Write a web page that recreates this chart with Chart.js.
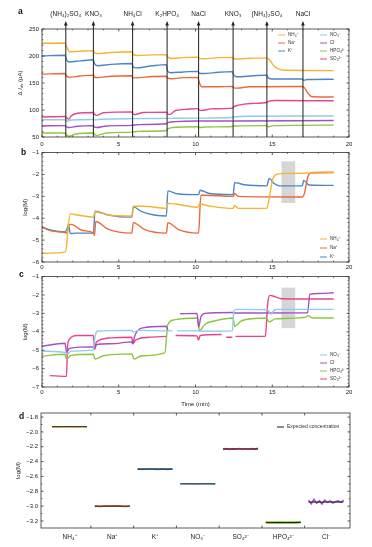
<!DOCTYPE html>
<html>
<head>
<meta charset="utf-8">
<script src="https://cdn.jsdelivr.net/npm/chart.js@4.4.1/dist/chart.umd.min.js"></script>
<style>
  html, body { margin: 0; padding: 0; background: #fff; }
  #wrap { position: relative; width: 372px; height: 547px; overflow: hidden; }
  canvas { position: absolute; left: 0; }
</style>
</head>
<body>
<div id="wrap">
  <canvas id="chartA" width="372" height="150" style="top:0px"></canvas>
  <canvas id="chartB" width="372" height="127" style="top:146px"></canvas>
  <canvas id="chartC" width="372" height="139" style="top:270px"></canvas>
  <canvas id="chartD" width="372" height="141" style="top:406px"></canvas>
</div>
<script>
// ---- colours per ion
const COL = {
  NH4: '#f3b531', Na: '#ea6a3a', K: '#4a87c9',
  NO3: '#8ecde9', Cl: '#a44fc8', HPO4: '#8dc63f', SO4: '#e9438d'
};

// ---- panel a: injections and current traces (time in min, delta I in uA)
const injectTimes = [1.55, 3.35, 5.9, 8.15, 10.2, 12.45, 14.65, 17.0];
const injectLabels = ['(NH\u2084)\u2082SO\u2084', 'KNO\u2083', 'NH\u2084Cl', 'K\u2082HPO\u2084',
                      'NaCl', 'KNO\u2083', '(NH\u2084)\u2082SO\u2084', 'NaCl'];

const aNH4 = [[0,223.5],[1.5,224],[1.62,216],[1.8,208],[2.3,208.5],[3.35,210],[3.42,206],[3.6,204.5],[4.5,206.5],[5.85,208],[5.95,203],[6.2,201],[7.2,202],[8.1,202.5],[8.2,198],[8.45,195.5],[9.2,197],[10.15,198],[10.25,195.5],[10.6,195],[11.5,197],[12.4,197.5],[12.5,195],[12.8,194.5],[13.8,196],[14.65,196],[14.85,192],[15.1,182],[15.4,176],[15.8,173.5],[19,173]];
const aNa = [[0,166.5],[1.5,167.5],[1.6,163],[1.75,160.5],[2.5,163],[3.35,164.5],[3.42,161],[3.6,160],[4.5,162.5],[5.85,163.5],[5.92,160],[6.1,159.5],[7.2,162],[8.1,162.5],[8.18,159],[8.4,158],[9.2,160],[10.15,160.5],[10.25,151],[10.4,143],[11.5,143],[12.4,143.5],[12.5,141],[12.7,140.5],[13.5,143],[16.95,143.5],[17.1,141],[17.35,130],[17.6,124.5],[19,124]];
const aK = [[0,200],[1.5,201.5],[1.6,193],[1.75,189],[2.5,191],[3.35,193],[3.42,186],[3.6,182],[4.5,184.5],[5.85,186],[5.92,181],[6.1,178],[7.2,182],[8.1,184],[8.18,172],[8.4,169],[9.2,170.5],[10.15,171.5],[10.25,168],[10.5,167.5],[11.5,170],[12.4,171],[12.5,164],[12.7,161.5],[13.8,163.5],[14.65,164.5],[14.75,159],[15.0,157.5],[16.95,157.5],[17.05,155],[17.3,156.5],[19,157]];
const aNO3 = [[0,82],[1.5,82],[1.65,79.5],[1.9,81.5],[3.35,82.5],[3.45,81.5],[3.8,83],[5.9,84],[8.1,84.5],[10.2,85],[12.4,86],[12.6,87.5],[13.5,88.5],[19,89]];
const aCl = [[0,70.5],[1.5,71],[1.62,68.5],[1.75,67.5],[2.3,70],[3.35,71],[3.42,68.5],[3.55,67.5],[4.2,70.5],[5.85,71.5],[6.3,73],[8.1,74.5],[8.25,77],[8.7,78.5],[10.15,79.5],[10.4,79.5],[12.5,79.5],[19,80.5]];
const aHPO4 = [[0,57.5],[1.5,57.5],[1.62,53.5],[1.75,51.5],[2.2,55.5],[3.35,57.5],[3.42,54.5],[3.55,53],[4.2,57.5],[5.85,59],[6.3,60.5],[8.1,61.5],[8.2,65],[8.5,67.5],[10.15,69],[10.25,67.5],[10.6,68.5],[12.4,69.5],[12.5,70.5],[14.65,71],[14.75,69],[15.1,71],[19,72]];
const aSO4 = [[0,87],[1.5,88],[1.6,85.5],[1.75,83],[1.9,89],[2.3,94],[3.35,95.5],[3.42,92],[3.55,90],[4,95],[5.85,96.5],[5.92,93],[6.05,91.5],[6.6,95.5],[8.1,96],[8.18,93],[8.3,91.5],[8.7,99],[9.5,101.5],[10.15,102.5],[10.25,100],[10.4,99],[11,102],[12.4,103.5],[12.5,106],[12.8,109],[13.6,112],[14.65,114],[14.8,116.5],[15.2,117.5],[19,117]];

// ---- panel b: cations, log(M)
const bNH4 = [[0,-5.6],[1.5,-5.55],[1.6,-5.3],[1.7,-4.4],[1.85,-3.8],[2.3,-3.85],[3.35,-3.95],[3.45,-3.7],[4.3,-3.85],[5.85,-3.9],[5.95,-3.45],[6.6,-3.45],[8.1,-3.55],[8.2,-3.32],[8.7,-3.35],[10.15,-3.5],[10.25,-3.35],[11,-3.45],[12.45,-3.55],[12.55,-3.42],[12.8,-3.55],[14.65,-3.55],[14.8,-3.1],[15.0,-2.3],[15.25,-2.0],[16,-1.95],[19,-1.92]];
const bNa = [[0,-4.42],[0.6,-4.58],[1.5,-4.65],[1.65,-4.68],[1.75,-4.3],[1.9,-4.28],[2.6,-4.55],[3.35,-4.68],[3.42,-4.78],[3.5,-4.15],[4.3,-4.5],[5.85,-4.68],[5.95,-4.2],[6.7,-4.52],[8.1,-4.68],[8.2,-4.2],[8.9,-4.52],[10.2,-4.68],[10.35,-2.95],[10.6,-2.95],[12.45,-3.0],[12.55,-2.87],[12.8,-3.0],[16.95,-3.03],[17.1,-2.85],[17.3,-2.15],[17.5,-1.92],[19,-1.9]];
const bK = [[0,-4.4],[0.6,-4.55],[1.5,-4.63],[1.62,-4.5],[1.72,-4.3],[1.85,-4.7],[2.2,-4.68],[3.35,-4.68],[3.45,-3.68],[4.3,-3.85],[5.85,-3.95],[5.95,-3.48],[6.5,-3.7],[7.3,-3.85],[8.1,-3.9],[8.2,-2.75],[8.8,-2.88],[10.2,-2.92],[10.3,-2.72],[10.9,-2.87],[12.45,-2.92],[12.55,-2.37],[13.2,-2.47],[14.65,-2.52],[14.8,-2.18],[15.1,-2.4],[15.5,-2.52],[16.95,-2.52],[17.05,-2.27],[17.4,-2.48],[19,-2.5]];
const bShade = [15.6, 16.5, -1.4, -3.3];

// ---- panel c: anions, log(M)
const cNO3 = [[0,-5.05],[1.5,-5.12],[1.65,-5.2],[1.9,-5.05],[3.35,-4.98],[3.45,-4.3],[3.6,-3.97],[5.85,-3.92],[5.95,-4.02],[6.3,-3.92],[8.1,-3.95],[8.5,-3.95],[8.6,null],[8.8,-3.95],[10.1,-3.95],[10.2,-3.95],[10.4,-3.97],[12.4,-3.95],[12.5,-2.85],[12.7,-2.78],[14.7,-2.8],[14.9,-3.05],[15.1,-2.85],[15.4,-2.78],[19,-2.78]];
const cCl = [[0,-4.78],[1.5,-4.62],[1.6,-5.1],[1.8,-4.9],[3.35,-4.82],[3.42,-4.95],[3.55,-4.7],[4.5,-4.65],[5.85,-4.55],[5.9,-4.65],[6.05,-4.2],[6.5,-3.8],[8.1,-3.7],[8.2,-3.95],[8.5,null],[9.0,-3.02],[10.1,-3.0],[10.2,-3.75],[10.35,-3.2],[10.6,-3.0],[12.4,-2.95],[12.6,-2.98],[17.3,-2.97],[17.45,-1.95],[18,-1.92],[19,-1.88]];
const cHPO4 = [[0,-5.32],[1.5,-5.22],[1.6,-5.48],[1.9,-5.28],[3.35,-5.22],[3.45,-5.48],[4,-5.3],[5.85,-5.2],[6.0,-5.48],[6.5,-5.3],[8.0,-5.15],[8.2,-3.6],[8.6,-3.35],[10.15,-3.25],[10.25,-3.95],[10.6,-3.6],[11.3,-3.4],[12.45,-3.25],[12.55,-3.7],[13.0,-3.4],[14.6,-3.25],[14.8,-3.45],[15.2,-3.3],[17.2,-3.2],[17.35,-3.12],[17.6,-3.25],[19,-3.25]];
const cSO4 = [[0.5,-6.38],[1.6,-6.42],[1.65,-5.0],[1.75,-4.45],[2.3,-4.2],[3.35,-4.2],[3.42,-4.9],[3.55,-4.55],[4.5,-4.33],[5.85,-4.3],[5.92,-4.65],[6.1,-4.45],[7,-4.3],[8.1,-4.25],[8.3,null],[8.7,-4.2],[10.1,-4.22],[10.2,-4.45],[10.3,-4.2],[11.7,-4.15],[11.8,null],[12.0,-4.3],[12.4,-4.3],[12.5,null],[12.6,-4.25],[14.55,-4.25],[14.7,-2.5],[14.85,-2.02],[15.2,-2.1],[15.6,-2.2],[19,-2.22]];
const cShade = [15.6, 16.5, -1.6, -3.8];

// ---- panel d: steady-state readings per ion, log(M)
const dCats = ['NH\u2084\u207A', 'Na\u207A', 'K\u207A', 'NO\u2083\u207B', 'SO\u2084\u00B2\u207B', 'HPO\u2084\u00B2\u207B', 'Cl\u207B'];
const dExpected = [-1.93, -3.0, -2.5, -2.7, -2.23, -3.22, -2.945];
const dNH4 = [-1.93, -1.932, -1.93, -1.931, -1.93, -1.932, -1.93, -1.931];
const dNa = [-3.0, -3.005, -3.0, -3.0, -2.995, -3.0, -3.005, -3.0];
const dK = [-2.5, -2.505, -2.5, -2.5, -2.505, -2.5, -2.505, -2.5];
const dNO3 = [-2.7, -2.702, -2.7, -2.705, -2.7, -2.702, -2.7, -2.703];
const dSO4 = [-2.235, -2.225, -2.235, -2.228, -2.232, -2.224, -2.234, -2.226, -2.233, -2.225, -2.232, -2.222];
const dHPO4 = [-3.22, -3.225, -3.22, -3.222, -3.225, -3.22, -3.223, -3.215];
const dCl = [-2.92, -2.97, -2.91, -2.96, -2.93, -2.97, -2.92, -2.95, -2.93, -2.96, -2.94, -2.93, -2.95, -2.92];

Chart.defaults.font.family = '"Liberation Sans", Arial, Helvetica, sans-serif';
Chart.defaults.font.size = 6;
Chart.defaults.color = '#222';

const minus = v => String(v).replace('-', '\u2212');

// frame, inward ticks, titles, legends, shading, injection arrows
const panelPlugin = {
  id: 'panel',
  beforeDatasetsDraw(chart, args, o) {
    if (!o.shade) return;
    const {ctx, scales: {x, y}} = chart;
    const [x0, x1, y0, y1] = o.shade;
    const l = x.getPixelForValue(x0), r = x.getPixelForValue(x1);
    const t = y.getPixelForValue(y0), b = y.getPixelForValue(y1);
    ctx.save();
    ctx.fillStyle = '#d6d6d6';
    ctx.fillRect(l, t, r - l, b - t);
    ctx.restore();
  },
  afterDraw(chart, args, o) {
    const {ctx, chartArea: ca, scales: {x, y}} = chart;
    const fam = Chart.defaults.font.family;
    ctx.save();

    // injection lines (panel a)
    if (o.inject) {
      ctx.strokeStyle = '#333';
      ctx.fillStyle = '#222';
      ctx.lineWidth = 1.1;
      o.inject.times.forEach((t, i) => {
        const px = x.getPixelForValue(t);
        ctx.beginPath();
        ctx.moveTo(px, ca.bottom);
        ctx.lineTo(px, 24);
        ctx.stroke();
        ctx.beginPath();
        ctx.moveTo(px - 1.8, 25.5);
        ctx.lineTo(px + 1.8, 25.5);
        ctx.lineTo(px, 21);
        ctx.closePath();
        ctx.fill();
        ctx.font = '6.5px ' + fam;
        ctx.textAlign = 'center';
        ctx.textBaseline = 'middle';
        ctx.fillText(o.inject.labels[i], px, 14);
      });
    }

    // frame
    ctx.strokeStyle = '#333';
    ctx.lineWidth = 0.8;
    ctx.strokeRect(ca.left, ca.top, ca.right - ca.left, ca.bottom - ca.top);
    const marks = (sc, spec, horiz) => {
      const n = Math.round((spec.end - spec.start) / spec.step);
      for (let k = 0; k <= n; k++) {
        const v = spec.start + k * spec.step;
        const len = k % spec.every === 0 ? 2.5 : 1.3;
        const p = sc.getPixelForValue(v);
        ctx.beginPath();
        if (horiz) {
          ctx.moveTo(p, ca.bottom); ctx.lineTo(p, ca.bottom - len);
          ctx.moveTo(p, ca.top); ctx.lineTo(p, ca.top + len);
        } else {
          ctx.moveTo(ca.left, p); ctx.lineTo(ca.left + len, p);
          ctx.moveTo(ca.right, p); ctx.lineTo(ca.right - len, p);
        }
        ctx.stroke();
      }
    };
    marks(x, o.xMarks, true);
    marks(y, o.yMarks, false);

    // y title (rotated, parts allow subscripts)
    if (o.yTitle) {
      ctx.save();
      ctx.translate(o.yTitle.x, (ca.top + ca.bottom) / 2);
      ctx.rotate(-Math.PI / 2);
      ctx.fillStyle = '#222';
      ctx.textBaseline = 'middle';
      ctx.textAlign = 'left';
      const parts = o.yTitle.parts;
      let w = 0;
      parts.forEach(p => { ctx.font = (p[3] || '') + ' ' + p[1] + 'px ' + fam; w += ctx.measureText(p[0]).width; });
      let cx = -w / 2;
      parts.forEach(p => {
        ctx.font = (p[3] || '') + ' ' + p[1] + 'px ' + fam;
        ctx.fillText(p[0], cx, p[2]);
        cx += ctx.measureText(p[0]).width;
      });
      ctx.restore();
    }

    // x title
    if (o.xTitle) {
      ctx.fillStyle = '#222';
      ctx.font = '6px ' + fam;
      ctx.textAlign = 'center';
      ctx.textBaseline = 'middle';
      ctx.fillText(o.xTitle[0], (ca.left + ca.right) / 2, o.xTitle[1]);
    }

    // panel letter
    if (o.letter) {
      ctx.fillStyle = '#111';
      ctx.font = 'bold 8.5px ' + fam;
      ctx.textAlign = 'left';
      ctx.textBaseline = 'middle';
      ctx.fillText(o.letter[0], o.letter[1], o.letter[2]);
    }

    // legend
    if (o.legend) {
      ctx.textAlign = 'left';
      ctx.textBaseline = 'middle';
      o.legend.forEach(([label, color, lx, ly, size]) => {
        ctx.strokeStyle = color;
        ctx.lineWidth = 1;
        ctx.beginPath();
        ctx.moveTo(lx, ly);
        ctx.lineTo(lx + 7, ly);
        ctx.stroke();
        ctx.fillStyle = '#333';
        ctx.font = (size || 4.6) + 'px ' + fam;
        ctx.fillText(label, lx + 10, ly);
      });
    }
    ctx.restore();
  }
};

function series(label, color, pairs, width) {
  return {
    label,
    data: pairs.map(([x, y]) => ({x, y})),
    borderColor: color,
    borderWidth: width || 1.4,
    pointRadius: 0,
    fill: false,
    spanGaps: false,
    cubicInterpolationMode: 'monotone'
  };
}

function timeOptions(cfg) {
  return {
    responsive: false,
    animation: false,
    events: [],
    layout: {padding: {top: cfg.padTop, right: 23, left: 0, bottom: 0}},
    plugins: {legend: {display: false}, tooltip: {enabled: false}, panel: cfg.panel},
    scales: {
      x: {
        type: 'linear', min: 0, max: 20,
        grid: {display: false, drawTicks: false}, border: {display: false},
        ticks: {stepSize: 5, padding: cfg.xPad, maxRotation: 0, font: {size: 6}},
        afterFit: s => { s.height = cfg.xH; }
      },
      y: {
        type: 'linear', min: cfg.yMin, max: cfg.yMax,
        grid: {display: false, drawTicks: false}, border: {display: false},
        ticks: {stepSize: cfg.yStep, padding: 3, font: {size: 6}, callback: v => minus(v)},
        afterFit: s => { s.width = 42; }
      }
    }
  };
}

const cationLegend = [['NH\u2084\u207A', COL.NH4], ['Na\u207A', COL.Na], ['K\u207A', COL.K]];
const anionLegend = [['NO\u2083\u207B', COL.NO3], ['Cl\u207B', COL.Cl], ['HPO\u2084\u00B2\u207B', COL.HPO4], ['SO\u2084\u00B2\u207B', COL.SO4]];

// ---- panel a
new Chart(document.getElementById('chartA'), {
  type: 'line',
  data: {datasets: [
    series('NH4+', COL.NH4, aNH4), series('Na+', COL.Na, aNa), series('K+', COL.K, aK),
    series('NO3-', COL.NO3, aNO3), series('Cl-', COL.Cl, aCl), series('HPO4 2-', COL.HPO4, aHPO4),
    series('SO4 2-', COL.SO4, aSO4)
  ]},
  options: timeOptions({
    padTop: 29, xH: 13, xPad: 3.5, yMin: 50, yMax: 250, yStep: 50,
    panel: {
      xMarks: {start: 0, end: 20, step: 1, every: 5},
      yMarks: {start: 50, end: 250, step: 10, every: 5},
      inject: {times: injectTimes, labels: injectLabels},
      yTitle: {x: 20, parts: [['\u0394 ', 6, 0], ['I', 6, 0, 'italic'], ['ds', 4.3, 1.5, 'italic'], [' (\u03BCA)', 6, 0]]},
      letter: ['a', 18, 12],
      legend: cationLegend.map((e, i) => [e[0], e[1], 278, 35 + 8 * i])
        .concat(anionLegend.map((e, i) => [e[0], e[1], 320, 35 + 8 * i]))
    }
  }),
  plugins: [panelPlugin]
});

// ---- panel b
new Chart(document.getElementById('chartB'), {
  type: 'line',
  data: {datasets: [
    series('NH4+', COL.NH4, bNH4), series('Na+', COL.Na, bNa), series('K+', COL.K, bK)
  ]},
  options: timeOptions({
    padTop: 6, xH: 11, xPad: 1.5, yMin: -6, yMax: -1, yStep: 1,
    panel: {
      shade: bShade,
      xMarks: {start: 0, end: 20, step: 1, every: 5},
      yMarks: {start: -6, end: -1, step: 0.2, every: 5},
      yTitle: {x: 25, parts: [['log(M)', 6, 0]]},
      letter: ['b', 21, 7],
      legend: cationLegend.map((e, i) => [e[0], e[1], 320, 93 + 9 * i])
    }
  }),
  plugins: [panelPlugin]
});

// ---- panel c
new Chart(document.getElementById('chartC'), {
  type: 'line',
  data: {datasets: [
    series('NO3-', COL.NO3, cNO3), series('Cl-', COL.Cl, cCl),
    series('HPO4 2-', COL.HPO4, cHPO4), series('SO4 2-', COL.SO4, cSO4)
  ]},
  options: timeOptions({
    padTop: 6, xH: 22, xPad: 1.5, yMin: -7, yMax: -1, yStep: 1,
    panel: {
      shade: cShade,
      xMarks: {start: 0, end: 20, step: 1, every: 5},
      yMarks: {start: -7, end: -1, step: 0.2, every: 5},
      yTitle: {x: 25, parts: [['log(M)', 6, 0]]},
      xTitle: ['Time (min)', 134],
      letter: ['c', 19, 5],
      legend: anionLegend.map((e, i) => [e[0], e[1], 320, 85 + 8 * i])
    }
  }),
  plugins: [panelPlugin]
});

// ---- panel d
const dSeries = [dNH4, dNa, dK, dNO3, dSO4, dHPO4, dCl];
const dColors = [COL.NH4, COL.Na, COL.K, COL.NO3, COL.SO4, COL.HPO4, COL.Cl];
const halfW = 0.41;
const dDatasets = [];
dExpected.forEach((v, i) => {
  dDatasets.push({
    data: [{x: i - halfW, y: v}, {x: i + halfW, y: v}],
    borderColor: '#1a1a1a', borderWidth: 1, pointRadius: 0, fill: false
  });
});
dSeries.forEach((r, i) => {
  dDatasets.push({
    data: r.map((v, k) => ({x: i - halfW + 2 * halfW * k / (r.length - 1), y: v})),
    borderColor: dColors[i], borderWidth: i === 5 ? 2.6 : 1.6, pointRadius: 0, fill: false
  });
});

new Chart(document.getElementById('chartD'), {
  type: 'line',
  data: {datasets: dDatasets},
  options: {
    responsive: false,
    animation: false,
    events: [],
    layout: {padding: {top: 7, right: 22, left: 0, bottom: 0}},
    plugins: {
      legend: {display: false}, tooltip: {enabled: false},
      panel: {
        xMarks: {start: 0.5, end: 5.5, step: 1, every: 1},
        yMarks: {start: -3.2, end: -1.8, step: 0.1, every: 2},
        yTitle: {x: 18, parts: [['log(M)', 6, 0]]},
        letter: ['d', 19, 11],
        legend: [['Expected concentration', '#1a1a1a', 277, 21, 5]]
      }
    },
    scales: {
      x: {
        type: 'linear', min: -0.667, max: 6.56,
        grid: {display: false, drawTicks: false}, border: {display: false},
        afterBuildTicks: s => { s.ticks = dCats.map((c, i) => ({value: i})); },
        ticks: {padding: 5, maxRotation: 0, autoSkip: false, font: {size: 6.5}, callback: v => dCats[v]},
        afterFit: s => { s.height = 19; }
      },
      y: {
        type: 'linear', min: -3.295, max: -1.745,
        grid: {display: false, drawTicks: false}, border: {display: false},
        afterBuildTicks: s => { s.ticks = [-3.2, -3.0, -2.8, -2.6, -2.4, -2.2, -2.0, -1.8].map(v => ({value: v})); },
        ticks: {padding: 3, font: {size: 6}, callback: v => minus(v.toFixed(1))},
        afterFit: s => { s.width = 41; }
      }
    }
  },
  plugins: [panelPlugin]
});
</script>
</body>
</html>
